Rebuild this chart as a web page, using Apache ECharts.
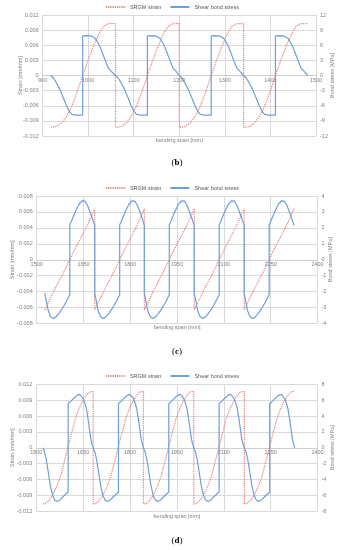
<!DOCTYPE html>
<html><head><meta charset="utf-8">
<script src="https://cdn.jsdelivr.net/npm/echarts@6/dist/echarts.min.js"></script>
<style>html,body{margin:0;padding:0;background:#fff}#c{width:344px;height:550px}</style>
</head><body><div id="c"></div>
<script>
// ---------- Panel (b) ----------
const bSpanStrain = [918,931,942,953,964,975,988,1000,1011,1022,1033,1044,1060,
  1060,1073,1084,1095,1106,1117,1130,1142,1153,1164,1175,1186,1200,
  1200,1213,1224,1235,1246,1257,1270,1282,1293,1304,1315,1326,1341,
  1341,1354,1365,1376,1387,1398,1411,1423,1434,1445,1456,1467,1482];
const bStrain = [-0.0103,-0.0101,-0.0094,-0.0081,-0.0061,-0.0035,0,0.0031,0.0057,0.0080,0.0097,0.0103,0.0103,
  -0.0103,-0.0101,-0.0094,-0.0081,-0.0061,-0.0035,0,0.0031,0.0057,0.0080,0.0097,0.0103,0.0103,
  -0.0103,-0.0101,-0.0094,-0.0081,-0.0061,-0.0035,0,0.0031,0.0057,0.0080,0.0097,0.0103,0.0103,
  -0.0103,-0.0101,-0.0094,-0.0081,-0.0061,-0.0035,0,0.0031,0.0057,0.0080,0.0097,0.0103,0.0103];
const bSpanStress = [918,924,931,938,945,952,958,964,974,988,988,998,1008,1015,1021,1026,1032,1037,1044,1051,
  1060,1066,1073,1080,1087,1094,1100,1106,1116,1130,1130,1140,1150,1157,1163,1168,1174,1179,1186,1193,
  1200,1206,1213,1220,1227,1234,1240,1246,1256,1270,1270,1280,1290,1297,1303,1308,1314,1319,1326,1333,
  1341,1347,1354,1361,1368,1375,1381,1387,1397,1411,1411,1421,1431,1438,1444,1449,1455,1460,1467,1474,
  1482];
const bStress = [0,-0.5,-1.6,-2.8,-4.3,-5.9,-7.0,-7.7,-7.85,-7.85,7.85,7.9,7.8,7.4,6.6,5.7,4.3,3.1,1.5,0.8,
  0,-0.5,-1.6,-2.8,-4.3,-5.9,-7.0,-7.7,-7.85,-7.85,7.85,7.9,7.8,7.4,6.6,5.7,4.3,3.1,1.5,0.8,
  0,-0.5,-1.6,-2.8,-4.3,-5.9,-7.0,-7.7,-7.85,-7.85,7.85,7.9,7.8,7.4,6.6,5.7,4.3,3.1,1.5,0.8,
  0,-0.5,-1.6,-2.8,-4.3,-5.9,-7.0,-7.7,-7.85,-7.85,7.85,7.9,7.8,7.4,6.6,5.7,4.3,3.1,1.5,0.8,
  0];

// ---------- Panel (c) ----------
const cSpanStrain = [1526,1542,1558,1574,1590,1606,1622,1638,1654,1670,1686,
  1686,1702,1718,1734,1750,1766,1782,1798,1814,1830,1845,
  1845,1861,1877,1893,1909,1925,1941,1957,1973,1989,2005,
  2005,2021,2037,2053,2069,2085,2101,2117,2133,2149,2165,
  2165,2181,2197,2213,2229,2245,2261,2277,2293,2309,2325];
const cStrain = [-0.0063,-0.0050,-0.0037,-0.0025,-0.0013,0,0.0013,0.0025,0.0037,0.0050,0.0064,
  -0.0063,-0.0050,-0.0037,-0.0025,-0.0013,0,0.0013,0.0025,0.0037,0.0050,0.0064,
  -0.0063,-0.0050,-0.0037,-0.0025,-0.0013,0,0.0013,0.0025,0.0037,0.0050,0.0064,
  -0.0063,-0.0050,-0.0037,-0.0025,-0.0013,0,0.0013,0.0025,0.0037,0.0050,0.0064,
  -0.0063,-0.0050,-0.0037,-0.0025,-0.0013,0,0.0013,0.0025,0.0037,0.0050,0.0064];
const cSpanStress = [1526,1531,1537,1544,1552,1561,1572,1584,1594,1601,1606,1606,1611,1617,1626,1636,1646,1654,1662,1671,1679,1686,
  1686,1691,1697,1704,1712,1721,1732,1744,1754,1761,1766,1766,1771,1777,1786,1796,1806,1814,1822,1831,1839,1845,
  1845,1850,1856,1863,1871,1880,1891,1903,1913,1920,1925,1925,1930,1936,1945,1955,1965,1973,1981,1990,1998,2005,
  2005,2010,2016,2023,2031,2040,2051,2063,2073,2080,2085,2085,2090,2096,2105,2115,2125,2133,2141,2150,2158,2165,
  2165,2170,2176,2183,2191,2200,2211,2223,2233,2240,2245,2245,2250,2256,2265,2275,2285,2293,2301,2310,2318,2325];
const cStress = [-2.1,-2.6,-3.2,-3.55,-3.68,-3.6,-3.35,-3.0,-2.65,-2.38,-2.2,2.2,2.4,2.7,3.1,3.5,3.7,3.68,3.45,3.0,2.55,2.15,
  -2.1,-2.6,-3.2,-3.55,-3.68,-3.6,-3.35,-3.0,-2.65,-2.38,-2.2,2.2,2.4,2.7,3.1,3.5,3.7,3.68,3.45,3.0,2.55,2.15,
  -2.1,-2.6,-3.2,-3.55,-3.68,-3.6,-3.35,-3.0,-2.65,-2.38,-2.2,2.2,2.4,2.7,3.1,3.5,3.7,3.68,3.45,3.0,2.55,2.15,
  -2.1,-2.6,-3.2,-3.55,-3.68,-3.6,-3.35,-3.0,-2.65,-2.38,-2.2,2.2,2.4,2.7,3.1,3.5,3.7,3.68,3.45,3.0,2.55,2.15,
  -2.1,-2.6,-3.2,-3.55,-3.68,-3.6,-3.35,-3.0,-2.65,-2.38,-2.2,2.2,2.4,2.7,3.1,3.5,3.7,3.68,3.45,3.0,2.55,2.15];

// ---------- Panel (d) ----------
const dSpanStrain = [1521,1531,1541,1553,1565,1577,1589,1601,1613,1625,1637,1649,1661,1671,1682,
  1682,1692,1702,1714,1726,1738,1750,1762,1774,1786,1798,1810,1822,1832,1843,
  1843,1853,1863,1875,1887,1899,1911,1923,1935,1947,1959,1971,1983,1993,2004,
  2004,2014,2024,2036,2048,2060,2072,2084,2096,2108,2120,2132,2144,2154,2166,
  2166,2176,2186,2198,2210,2222,2234,2246,2258,2270,2282,2294,2306,2316,2327];
const dStrain = [-0.0107,-0.0105,-0.0100,-0.0089,-0.0074,-0.0055,-0.0028,0,0.0028,0.0055,0.0074,0.0089,0.0100,0.0106,0.0107,
  -0.0107,-0.0105,-0.0100,-0.0089,-0.0074,-0.0055,-0.0028,0,0.0028,0.0055,0.0074,0.0089,0.0100,0.0106,0.0107,
  -0.0107,-0.0105,-0.0100,-0.0089,-0.0074,-0.0055,-0.0028,0,0.0028,0.0055,0.0074,0.0089,0.0100,0.0106,0.0107,
  -0.0107,-0.0105,-0.0100,-0.0089,-0.0074,-0.0055,-0.0028,0,0.0028,0.0055,0.0074,0.0089,0.0100,0.0106,0.0107,
  -0.0107,-0.0105,-0.0100,-0.0089,-0.0074,-0.0055,-0.0028,0,0.0028,0.0055,0.0074,0.0089,0.0100,0.0106,0.0107];
const dSpanStress = [1521,1526,1531,1538,1545,1552,1559,1566,1576,1588,1602,1602,1611,1621,1631,1639,1649,1655,1660,1665,1670,1675,1679,
  1682,1687,1692,1699,1706,1713,1720,1727,1737,1749,1763,1763,1772,1782,1792,1800,1810,1816,1821,1826,1831,1836,1840,
  1843,1848,1853,1860,1867,1874,1881,1888,1898,1910,1924,1924,1933,1943,1953,1961,1971,1977,1982,1987,1992,1997,2001,
  2004,2009,2014,2021,2028,2035,2042,2049,2059,2071,2085,2085,2094,2104,2114,2122,2132,2138,2143,2148,2153,2158,2162,
  2166,2171,2176,2183,2190,2197,2204,2211,2221,2233,2247,2247,2256,2266,2276,2284,2294,2300,2305,2310,2315,2320,2324,
  2327];
const dStress = [0,-0.5,-1.3,-3.0,-4.8,-6.0,-6.6,-6.8,-6.6,-6.1,-5.6,5.6,5.9,6.3,6.65,6.75,6.3,5.7,5.0,3.8,2.4,1.0,0.4,
  0,-0.5,-1.3,-3.0,-4.8,-6.0,-6.6,-6.8,-6.6,-6.1,-5.6,5.6,5.9,6.3,6.65,6.75,6.3,5.7,5.0,3.8,2.4,1.0,0.4,
  0,-0.5,-1.3,-3.0,-4.8,-6.0,-6.6,-6.8,-6.6,-6.1,-5.6,5.6,5.9,6.3,6.65,6.75,6.3,5.7,5.0,3.8,2.4,1.0,0.4,
  0,-0.5,-1.3,-3.0,-4.8,-6.0,-6.6,-6.8,-6.6,-6.1,-5.6,5.6,5.9,6.3,6.65,6.75,6.3,5.7,5.0,3.8,2.4,1.0,0.4,
  0,-0.5,-1.3,-3.0,-4.8,-6.0,-6.6,-6.8,-6.6,-6.1,-5.6,5.6,5.9,6.3,6.65,6.75,6.3,5.7,5.0,3.8,2.4,1.0,0.4,
  0];

// axis settings
const xRanges = [[900,1500,100],[1500,2400,150],[1500,2400,150]];
const leftRanges = [[-0.012,0.012,0.003],[-0.008,0.008,0.002],[-0.012,0.012,0.003]];
const rightRanges = [[-12,12,3],[-4,4,1],[-8,8,2]];
const panelLabels = ['b','c','d'];
const seriesNames = ['SRGM strain','Shear bond stress'];

const zip = (xs, ys) => xs.map((x, i) => [x, ys[i]]);
const FONT = 'Liberation Sans';
const LBL = '#7f7f7f';
const GRIDC = '#d9d9d9';
const RED = '#e8807c';
const BLUE = '#6c9fdc';

const grids = [
  {left: 42.6, top: 15, width: 273.4, height: 121},
  {left: 36.7, top: 196, width: 280.8, height: 127.5},
  {left: 36.3, top: 384.5, width: 281.2, height: 126.5}
];
const leftNameGap = [19, 21, 21];
const rightNameGap = [13, 10, 12];
const xNameGap = [62, 65, 66];
const legendTop = [4, 185, 373];
const labelY = [163, 352, 541];

const xAxes = [], yAxes = [], series = [], legends = [], graphics = [];
for (let p = 0; p < 3; p++) {
  xAxes.push({
    type: 'value', gridIndex: p, position: 'bottom', offset: -grids[p].height / 2,
    min: xRanges[p][0], max: xRanges[p][1], interval: xRanges[p][2],
    name: 'bending span [mm]', nameLocation: 'middle', nameGap: xNameGap[p], nameMoveOverlap: false,
    nameTextStyle: {fontFamily: FONT, fontSize: 5.5, color: LBL},
    axisLine: {show: true, onZero: false, lineStyle: {color: '#cfcfcf', width: 1}},
    axisTick: {show: false},
    axisLabel: {fontFamily: FONT, fontSize: 5.5, color: LBL, margin: 2, formatter: v => String(v)},
    splitLine: {show: true, lineStyle: {color: GRIDC, width: 1}}
  });
  yAxes.push({
    type: 'value', gridIndex: p, position: 'left',
    min: leftRanges[p][0], max: leftRanges[p][1], interval: leftRanges[p][2],
    name: 'Strain [mm/mm]', nameLocation: 'middle', nameGap: leftNameGap[p], nameMoveOverlap: false,
    nameTextStyle: {fontFamily: FONT, fontSize: 5.5, color: LBL},
    axisLine: {show: false, onZero: false}, axisTick: {show: false},
    axisLabel: {fontFamily: FONT, fontSize: 5.5, color: LBL, margin: 4,
      formatter: v => Math.abs(v) < 1e-9 ? '0' : v.toFixed(3)},
    splitLine: {show: true, lineStyle: {color: GRIDC, width: 1}}
  });
  yAxes.push({
    type: 'value', gridIndex: p, position: 'right',
    min: rightRanges[p][0], max: rightRanges[p][1], interval: rightRanges[p][2],
    name: 'Bond stress [MPa]', nameLocation: 'middle', nameGap: rightNameGap[p], nameMoveOverlap: false,
    nameTextStyle: {fontFamily: FONT, fontSize: 5.5, color: LBL},
    axisLine: {show: false, onZero: false}, axisTick: {show: false},
    axisLabel: {fontFamily: FONT, fontSize: 5.5, color: LBL, margin: 4},
    splitLine: {show: false}
  });
  legends.push({
    top: legendTop[p], left: 'center', itemWidth: 19, itemHeight: 6, itemGap: 8, padding: 0,
    itemStyle: {opacity: 0},
    textStyle: {fontFamily: FONT, fontSize: 5.5, color: '#595959'},
    data: seriesNames
  });
  graphics.push({
    type: 'text', x: 177, y: labelY[p],
    style: {text: '{a|(}{b|' + panelLabels[p] + '}{a|)}', align: 'center', verticalAlign: 'middle',
      textAlign: 'center', textVerticalAlign: 'middle', fontFamily: 'Liberation Serif', fontSize: 9, fill: '#000',
      rich: {a: {fontFamily: 'Liberation Serif', fontSize: 9, fill: '#000'}, b: {fontFamily: 'Liberation Serif', fontSize: 9, fontWeight: 'bold', fill: '#000'}}}
  });
}

const strainX = [bSpanStrain, cSpanStrain, dSpanStrain];
const strainY = [bStrain, cStrain, dStrain];
const stressX = [bSpanStress, cSpanStress, dSpanStress];
const stressY = [bStress, cStress, dStress];
for (let p = 0; p < 3; p++) {
  series.push({
    name: 'SRGM strain', type: 'line', xAxisIndex: p, yAxisIndex: 2 * p,
    data: zip(strainX[p], strainY[p]), symbol: 'none', showSymbol: false,
    lineStyle: {color: RED, width: 1.2, type: [1.2, 1]}, itemStyle: {color: RED}, z: 2
  });
  series.push({
    name: 'Shear bond stress', type: 'line', xAxisIndex: p, yAxisIndex: 2 * p + 1,
    data: zip(stressX[p], stressY[p]), symbol: 'none', showSymbol: false,
    lineStyle: {color: BLUE, width: 1.2}, itemStyle: {color: BLUE}, z: 3
  });
}

const chart = echarts.init(document.getElementById('c'), null, {renderer: 'canvas'});
chart.setOption({
  animation: false,
  backgroundColor: '#fff',
  grid: grids,
  xAxis: xAxes,
  yAxis: yAxes,
  legend: legends,
  graphic: graphics,
  series: series
});
</script></body></html>
